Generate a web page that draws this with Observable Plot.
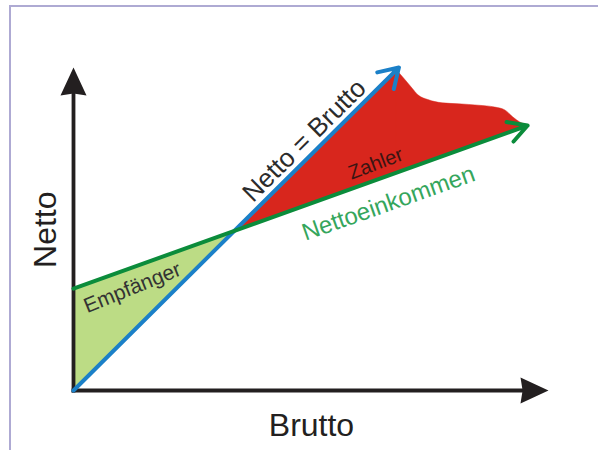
<!DOCTYPE html>
<html><head><meta charset="utf-8">
<script src="https://cdn.jsdelivr.net/npm/d3@7"></script>
<script src="https://cdn.jsdelivr.net/npm/@observablehq/plot@0.6"></script>
<style>
html,body{margin:0;padding:0;background:#fff;}
#wrap{position:relative;width:598px;height:450px;overflow:hidden;background:#fff;}
#frame{position:absolute;left:9px;top:5px;right:-10px;bottom:-10px;border-top:2px solid #aeaad3;border-left:2px solid #aeaad3;pointer-events:none;}
</style></head><body>
<div id="wrap"><div id="chart"></div><div id="frame"></div></div>
<script>
// Achsen (Brutto = x, Netto = y)
const achseBrutto = [0, 100];
const achseNetto = [0, 68.5];
// Netto = Brutto (Diagonale)
const diagBrutto = [0, 68.5];
const diagNetto = [0, 68.5];
// Nettoeinkommen
const nettoBrutto = [0, 33.8, 95.6];
const nettoNetto = [21.6, 33.8, 56.2];
// Empfänger-Fläche
const empfaengerBrutto = [0, 33.8];
const empfaengerOben = [21.6, 33.8];
const empfaengerUnten = [0, 33.8];
// Zahler-Fläche
const zahlerBrutto = [33.8, 68.0, 69.9, 71.4, 72.6, 74.7, 77.7, 81.1, 85.3, 88.8, 90.9, 92.6, 94.1, 95.6];
const zahlerOben   = [33.8, 68.0, 65.8, 64.0, 62.6, 61.6, 60.9, 60.7, 60.4, 60.0, 59.4, 57.9, 56.8, 56.2];
const zahlerUnten  = [33.8, 46.1, 46.8, 47.4, 47.8, 48.6, 49.7, 50.9, 52.4, 53.7, 54.4, 55.0, 55.6, 56.1];
// Beschriftungen
const titelX = "Brutto";
const titelY = "Netto";
const labelDiag = "Netto = Brutto";
const labelZahler = "Zahler";
const labelNetto = "Nettoeinkommen";
const labelEmpf = "Empfänger";

const zahler = zahlerBrutto.map((b, i) => ({b, o: zahlerOben[i], u: zahlerUnten[i]}));
const zahlerKeil = zahler.slice(0, 2);
const zahlerBogen = zahler.slice(1);
const empf = empfaengerBrutto.map((b, i) => ({b, o: empfaengerOben[i], u: empfaengerUnten[i]}));
const diag = [{x1: diagBrutto[0], y1: diagNetto[0], x2: diagBrutto[1], y2: diagNetto[1]}];
const netto = [{x1: nettoBrutto[0], y1: nettoNetto[0], x2: nettoBrutto[nettoBrutto.length - 1], y2: nettoNetto[nettoNetto.length - 1]}];
const achsen = [
  {x1: achseBrutto[0], y1: achseNetto[0], x2: achseBrutto[1], y2: achseNetto[0]},
  {x1: achseBrutto[0], y1: achseNetto[0], x2: achseBrutto[0], y2: achseNetto[1]}
];

const pfeilspitze = {
  draw(context, size) {
    const r = Math.sqrt(size / Math.PI);
    context.moveTo(0, 0);
    context.lineTo(0.93 * r, 2 * r);
    context.lineTo(0, 1.85 * r);
    context.lineTo(-0.93 * r, 2 * r);
    context.closePath();
  }
};

const ink = "#231f20";
const chart = Plot.plot({
  width: 598, height: 450,
  marginLeft: 73, marginRight: 50, marginTop: 67, marginBottom: 60,
  x: {domain: achseBrutto, axis: null},
  y: {domain: achseNetto, axis: null},
  style: {fontFamily: "'Liberation Sans', Arial, sans-serif", background: "transparent"},
  marks: [
    Plot.areaY(zahlerKeil, {x: "b", y1: "u", y2: "o", fill: "#d8261d"}),
    Plot.areaY(zahlerBogen, {x: "b", y1: "u", y2: "o", fill: "#d8261d", curve: "monotone-x", stroke: "#d8261d", strokeWidth: 0.5}),
    Plot.areaY(empf, {x: "b", y1: "u", y2: "o", fill: "#bcdc85"}),
    Plot.arrow(achsen, {x1: "x1", y1: "y1", x2: "x2", y2: "y2", stroke: ink, strokeWidth: 3.8, headLength: 0, insetEnd: 14, strokeLinecap: "square"}),
    Plot.dot([achseBrutto[1]], {x: d => d, y: achseNetto[0], symbol: pfeilspitze, r: 14, fill: ink, stroke: "none", rotate: 90}),
    Plot.dot([achseNetto[1]], {x: achseBrutto[0], y: d => d, symbol: pfeilspitze, r: 14, fill: ink, stroke: "none"}),
    Plot.arrow(diag, {x1: "x1", y1: "y1", x2: "x2", y2: "y2", stroke: "#1b80c8", strokeWidth: 4, headLength: 8.3, headAngle: 64}),
    Plot.arrow(netto, {x1: "x1", y1: "y1", x2: "x2", y2: "y2", stroke: "#0b8c3b", strokeWidth: 4, headLength: 8, headAngle: 58}),
    Plot.text([labelDiag], {text: d => d, x: 48.6, y: 53.0, rotate: -44.7, fontSize: 26, fill: "#2b2b2b"}),
    Plot.text([labelZahler], {text: d => d, x: 63.6, y: 48.1, rotate: -21, fontSize: 20, fill: "#3b1513"}),
    Plot.text([labelNetto], {text: d => d, x: 66.3, y: 39.7, rotate: -19.5, fontSize: 24, fill: "#35a65c"}),
    Plot.text([labelEmpf], {text: d => d, x: 12.4, y: 21.8, rotate: -22, fontSize: 21, fill: "#333333"}),
    Plot.text([titelX], {text: d => d, x: 50.1, y: -7.4, fontSize: 32, fill: ink}),
    Plot.text([titelY], {text: d => d, x: -5.9, y: 34.1, rotate: -90, fontSize: 32, fill: ink})
  ]
});
document.getElementById("chart").append(chart);
</script>
</body></html>
